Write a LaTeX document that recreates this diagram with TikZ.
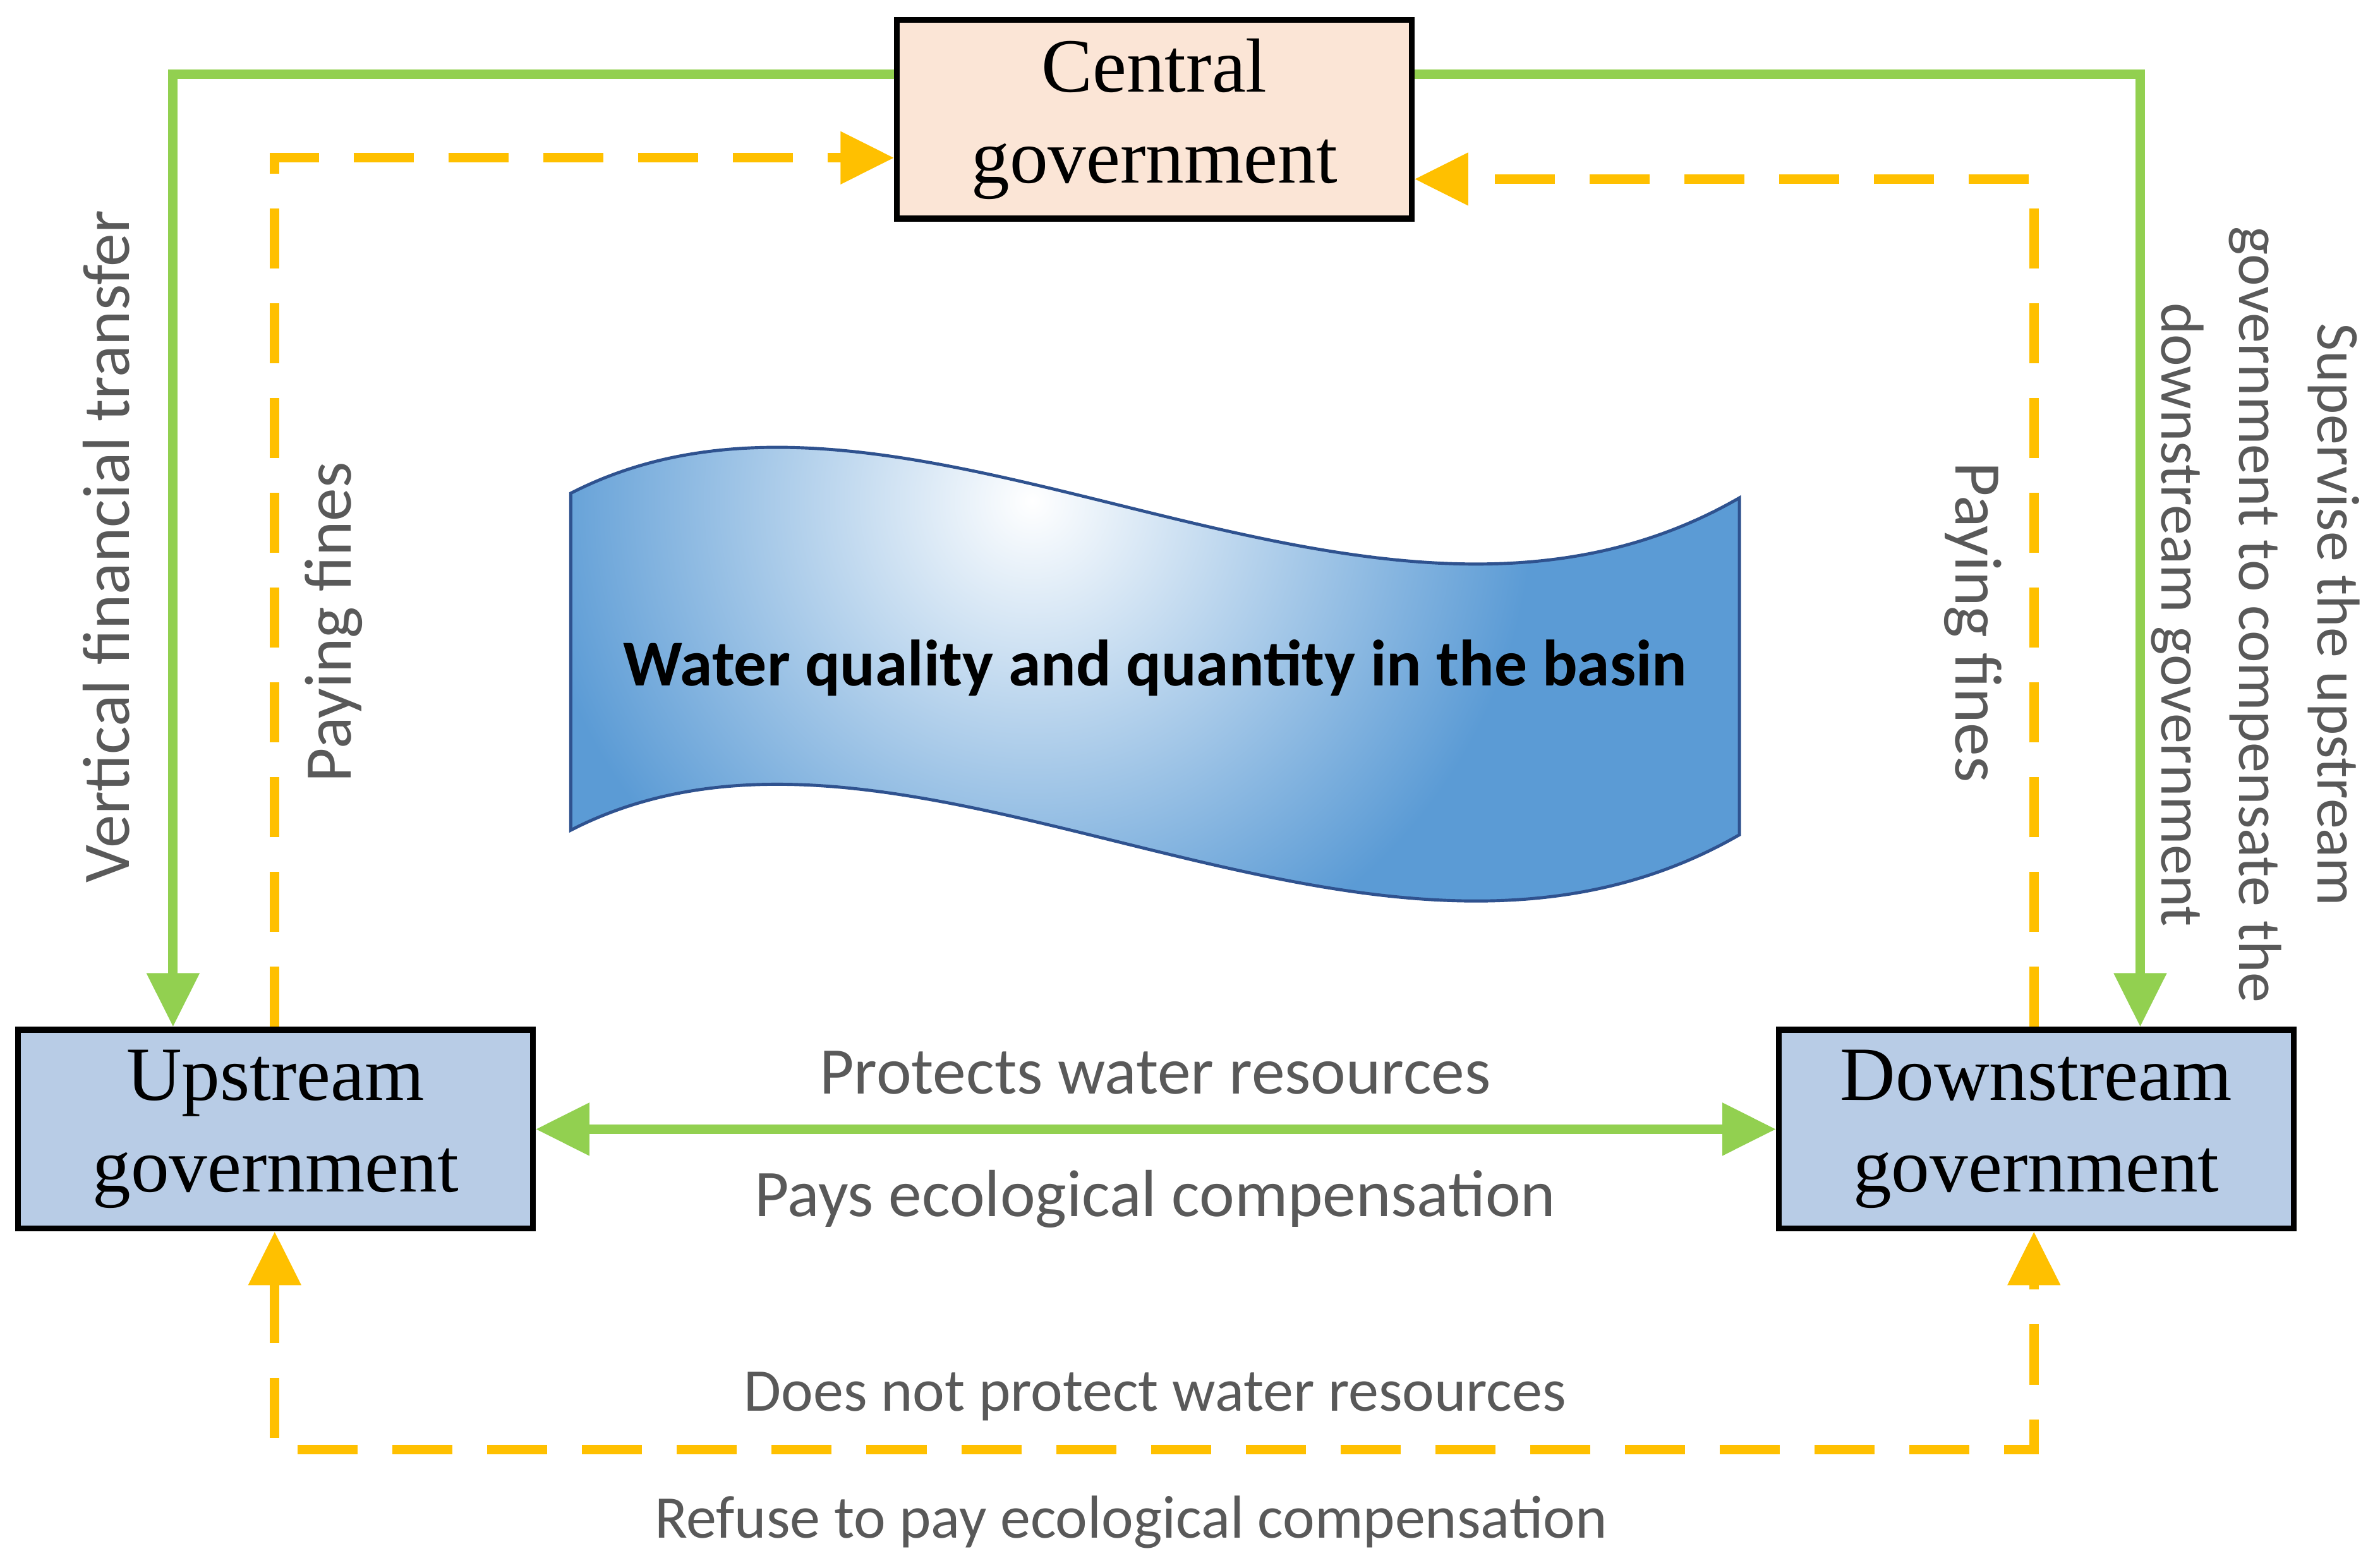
\documentclass[tikz,border=0pt]{standalone}
\usepackage{fontspec}
\setmainfont{Liberation Serif}
\newfontfamily\lab{Carlito}
\usetikzlibrary{arrows.meta}
\definecolor{grn}{HTML}{92D050}
\definecolor{org}{HTML}{FFC000}
\definecolor{peach}{HTML}{FBE5D6}
\definecolor{lblue}{HTML}{B8CCE6}
\definecolor{wblue}{HTML}{5B9BD5}
\definecolor{txt}{HTML}{595959}
\newlength{\unitpx}\setlength{\unitpx}{0.02402cm}
\tikzset{
 box/.style={draw=black,line width=2.6pt,minimum width=339\unitpx,minimum height=131\unitpx,align=center,font=\fontsize{34.5}{41}\selectfont,inner sep=0pt},
 gline/.style={draw=grn,line width=4.3pt},
 oline/.style={draw=org,line width=4.3pt,dash pattern=on 0.95cm off 0.55cm},
 tip/.style={-{Triangle[length=0.85cm,width=0.8cm]}},
 dtip/.style={{Triangle[length=0.85cm,width=0.8cm]}-{Triangle[length=0.85cm,width=0.8cm]}},
 lbl/.style={font=\lab\fontsize{30}{35}\selectfont,text=txt,align=center,inner sep=0pt},
 slbl/.style={lbl,font=\lab\fontsize{27.3}{35}\selectfont}
}
\begin{document}
\begin{tikzpicture}[x=0.02402cm,y=-0.02402cm]
\useasboundingbox (0,0) rectangle (1568,1033);
% wave
\begin{scope}
\path[clip] (376,325) .. controls (600,210) and (900,470) .. (1146,328) -- (1146,550) .. controls (900,692) and (600,432) .. (376,547) -- cycle;
\fill[wblue] (300,200) rectangle (1200,700);
\shade[inner color=white,outer color=wblue] (680,330) circle (330);
\end{scope}
\draw[draw={rgb,255:red,47;green,82;blue,143},line width=1.4pt] (376,325) .. controls (600,210) and (900,470) .. (1146,328) -- (1146,550) .. controls (900,692) and (600,432) .. (376,547) -- cycle;
\node[font=\lab\bfseries\fontsize{29.5}{34}\selectfont] (w) at (761,440) {Water quality and quantity in the basin};
% boxes
\node[box,fill=peach] (c) at (760.5,78.5) {Central\\government};
\node[box,fill=lblue] (u) at (181.5,744) {Upstream\\government};
\node[box,fill=lblue] (d) at (1341.5,744) {Downstream\\government};
% green
\draw[gline,tip] (c.west|-0,49) -- (114,49) -- (114,0|-u.north);
\draw[gline,tip] (c.east|-0,49) -- (1410,49) -- (1410,0|-d.north);
\draw[gline,dtip] (u.east) -- (d.west);
% orange
\draw[oline,tip] (181,0|-u.north) -- (181,104) -- (c.west|-0,104);
\draw[oline,tip] (1340,0|-d.north) -- (1340,118) -- (c.east|-0,118);
\draw[oline,dtip] (181,0|-u.south) -- (181,955) -- (1340,955) -- (1340,0|-d.south);
% labels
\node[lbl,rotate=90] (l1) at (70,360) {Vertical financial transfer};
\node[lbl,rotate=90] (l2) at (220,410) {Paying fines};
\node[slbl,rotate=-90,font=\lab\fontsize{27.3}{35}\selectfont] (l4) at (1486,405) {Supervise the upstream\\government to compensate the\\downstream government};
\node[lbl,rotate=-90] (l3) at (1300,410) {Paying fines};
\node[lbl] (l5) at (761,707) {Protects water resources};
\node[lbl] (l6) at (761,790) {Pays ecological compensation};
\node[slbl] (l7) at (761,920) {Does not protect water resources};
\node[slbl] (l8) at (745,1003) {Refuse to pay ecological compensation};
\end{tikzpicture}
\end{document}
